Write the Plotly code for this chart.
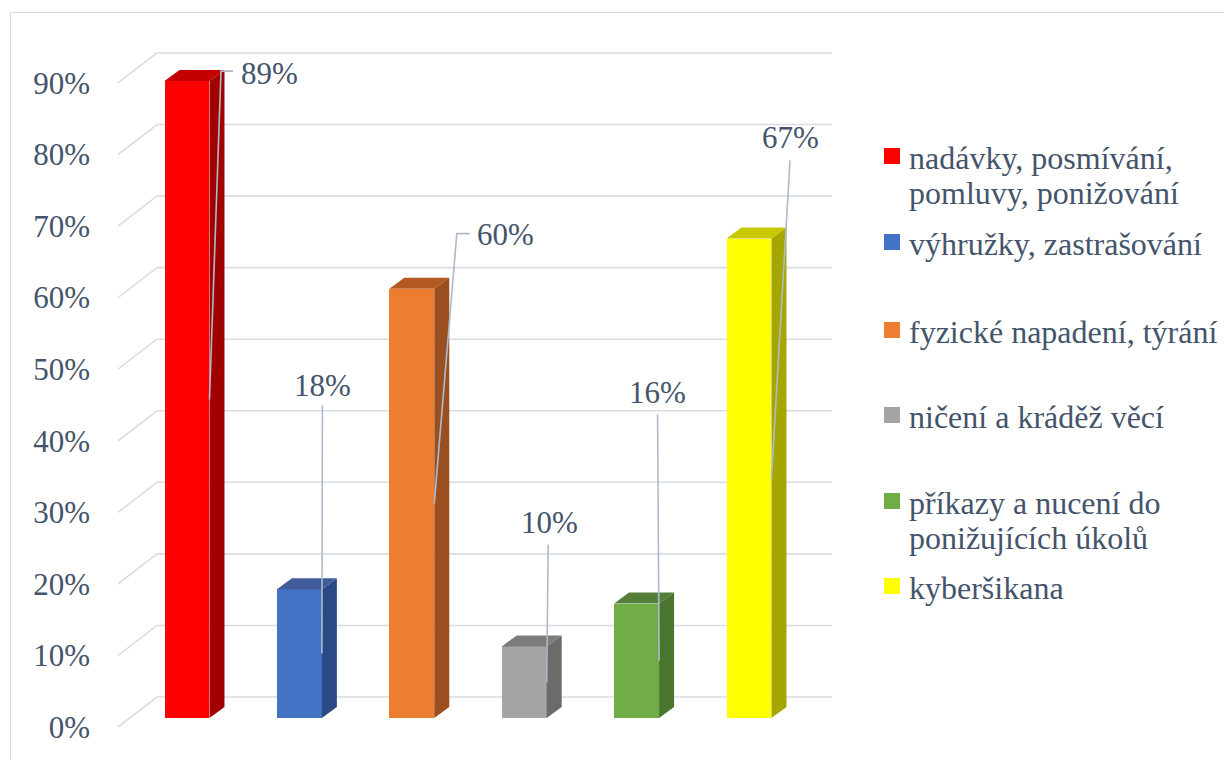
import plotly.graph_objects as go

# ---------------- data ----------------
categories = [
    "nadávky, posmívání,\npomluvy, ponižování",
    "výhružky, zastrašování",
    "fyzické napadení, týrání",
    "ničení a kráděž věcí",
    "příkazy a nucení do\nponižujících úkolů",
    "kyberšikana",
]
values = [89, 18, 60, 10, 16, 67]
tick_vals = [0, 10, 20, 30, 40, 50, 60, 70, 80, 90]
tick_text = ["0%", "10%", "20%", "30%", "40%", "50%", "60%", "70%", "80%", "90%"]

# ---------------- styles ----------------
front_colors = ["#FF0000", "#4472C4", "#ED7D31", "#A5A5A5", "#70AD47", "#FFFF00"]
side_colors = ["#A00000", "#2A4A85", "#9B4E1E", "#6B6B6B", "#4A752F", "#A6A600"]
top_colors = ["#C40000", "#3F5C98", "#B25A22", "#7C7C7C", "#557F38", "#C8C800"]
TXT = "#44546A"
FONT = "Liberation Serif"
FS = 31
FS_LEG = 32
GRID = "#D9DCE3"
LEADER = "#AEBACB"

# label offsets (px) from bar top-centre, and leader path points (px) relative to label centre
label_off = [(82, -8), (23, -204), (94, -54), (25, -124), (21, -211), (41, -101)]
leader_path = [
    [(-48, -2), (-36, -2)],
    [(0, 20)],
    [(-49, -1), (-36, -1)],
    [(-1, 22)],
    [(0, 22)],
    [(0, 23)],
]
legend_y = [158, 244, 332, 417, 503, 588]  # px, first-line centre
LINE_GAP = 35

# ---------------- geometry (reference-image pixels) ----------------
PAGE_MARGIN = 8                   # default body margin of the html page
W_REF, H_REF = 1232, 760
PL, PR, PT, PB = 118, 850, 12, 740
X0_PX, X_STEP = 187.0, 112.4      # category 0 centre, px per category
Y0_PX, Y_STEP = 727.0, 7.156      # 0 % at front floor edge, px per percent


def ux(px):
    return (px - X0_PX) / X_STEP


def uy(py):
    return (Y0_PX - py) / Y_STEP


def paper_x(px):
    return (px - PL) / (PR - PL)


def paper_y(py):
    return (PB - py) / (PB - PT)


xr = [ux(PL), ux(PR)]
yr = [uy(PB), uy(PT)]

WALL_DX, WALL_DY = 39 / X_STEP, 30 / Y_STEP     # floor depth
BAR_BASE = 9 / Y_STEP                          # bar front plane above floor edge
HALF = 0.2                                     # half bar width
BDX, BDY = 15 / X_STEP, 11 / Y_STEP            # bar depth

fig = go.Figure()
shapes = []

# back wall gridlines + side wall lines
for v in tick_vals:
    shapes.append(dict(type="line", xref="x", yref="y", layer="below",
                       x0=ux(PL) + WALL_DX, x1=ux(832), y0=v + WALL_DY, y1=v + WALL_DY,
                       line=dict(color=GRID, width=1.6)))
    shapes.append(dict(type="line", xref="x", yref="y", layer="below",
                       x0=ux(PL), x1=ux(PL) + WALL_DX, y0=v, y1=v + WALL_DY,
                       line=dict(color=GRID, width=1.6)))

# bars
xs = list(range(len(values)))
fig.add_trace(go.Bar(x=xs, y=values, base=[BAR_BASE] * len(values), width=2 * HALF,
                     marker=dict(color=front_colors, line=dict(width=0)),
                     showlegend=False, hoverinfo="skip"))
for i, v in enumerate(values):
    b = BAR_BASE
    xr_ = i + HALF
    xl_ = i - HALF
    # side face
    fig.add_trace(go.Scatter(
        x=[xr_, xr_ + BDX, xr_ + BDX, xr_, xr_],
        y=[b, b + BDY, b + v + BDY, b + v, b],
        fill="toself", fillcolor=side_colors[i], mode="lines",
        line=dict(width=0, color=side_colors[i]), showlegend=False, hoverinfo="skip"))
    # top face
    fig.add_trace(go.Scatter(
        x=[xl_, xl_ + BDX, xr_ + BDX, xr_, xl_],
        y=[b + v, b + v + BDY, b + v + BDY, b + v, b + v],
        fill="toself", fillcolor=top_colors[i], mode="lines",
        line=dict(width=0, color=top_colors[i]), showlegend=False, hoverinfo="skip"))

# data labels with leader lines
annotations = []
for i, v in enumerate(values):
    top_px_x = X0_PX + X_STEP * i
    top_px_y = (Y0_PX - 9) - Y_STEP * v
    lx = top_px_x + label_off[i][0]
    ly = top_px_y + label_off[i][1]
    annotations.append(dict(x=ux(lx), y=uy(ly), xref="x", yref="y", text=f"{v}%",
                            showarrow=False, xanchor="center", yanchor="middle",
                            font=dict(family=FONT, size=FS, color=TXT)))
    px_ = [i + HALF] + [ux(lx + dx) for dx, dy in leader_path[i]]
    py_ = [BAR_BASE + v / 2] + [uy(ly + dy) for dx, dy in leader_path[i]]
    fig.add_trace(go.Scatter(x=px_, y=py_, mode="lines",
                             line=dict(color=LEADER, width=1.6),
                             showlegend=False, hoverinfo="skip"))

# legend (manual)
for i, cat in enumerate(categories):
    yc = legend_y[i]
    shapes.append(dict(type="rect", xref="paper", yref="paper",
                       x0=paper_x(884), x1=paper_x(900),
                       y0=paper_y(yc + 6), y1=paper_y(yc - 10),
                       fillcolor=front_colors[i], line=dict(width=0)))
    for j, line in enumerate(cat.split("\n")):
        annotations.append(dict(x=paper_x(907), y=paper_y(yc + j * LINE_GAP),
                                xref="paper", yref="paper", text=line,
                                showarrow=False, xanchor="left", yanchor="middle",
                                font=dict(family=FONT, size=FS_LEG, color=TXT)))

# chart border
shapes.append(dict(type="rect", xref="paper", yref="paper",
                   x0=paper_x(10.5), x1=paper_x(1245), y0=paper_y(775), y1=paper_y(12.5),
                   line=dict(color="#D9D9D9", width=1), fillcolor="rgba(0,0,0,0)"))

fig.update_layout(
    width=W_REF - PAGE_MARGIN, height=H_REF - PAGE_MARGIN,
    margin=dict(l=PL - PAGE_MARGIN, r=W_REF - PR, t=PT - PAGE_MARGIN, b=H_REF - PB,
                autoexpand=False),
    paper_bgcolor="white", plot_bgcolor="white",
    showlegend=False,
    font=dict(family=FONT, size=FS, color=TXT),
    shapes=shapes, annotations=annotations,
    xaxis=dict(range=xr, visible=False, fixedrange=True),
    yaxis=dict(range=yr, tickvals=tick_vals, ticktext=tick_text,
               showgrid=False, zeroline=False, showline=False, ticks="",
               ticklabelstandoff=27,
               tickfont=dict(family=FONT, size=FS, color=TXT), fixedrange=True),
    bargap=0,
)

fig.write_html("out.html")
